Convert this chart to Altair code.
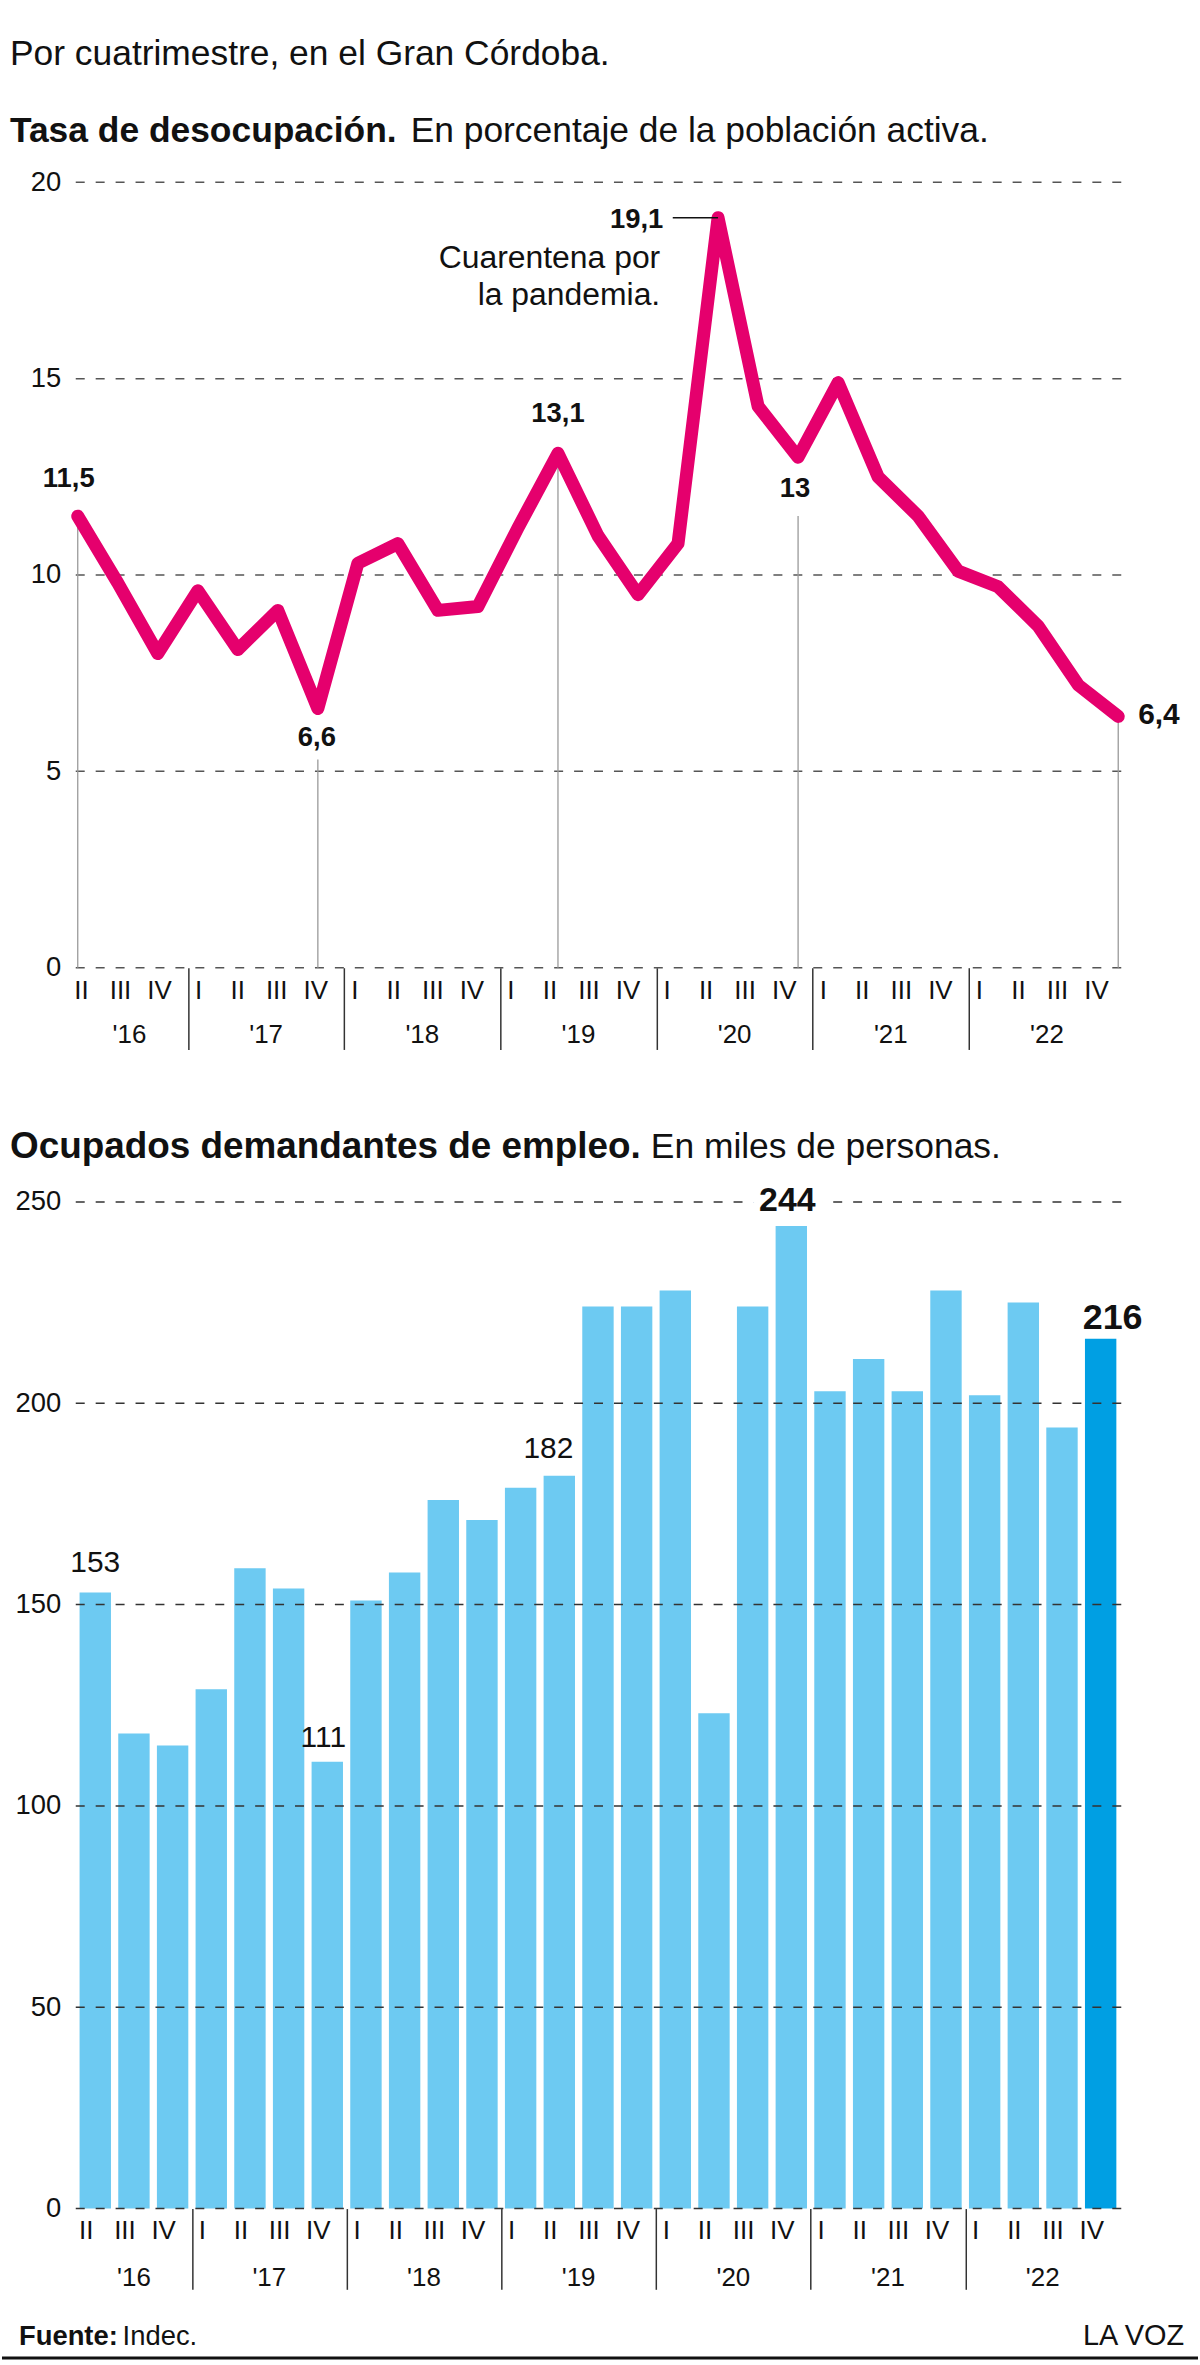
import altair as alt
import pandas as pd

# ---------------- data ----------------
quarters = ["II", "III", "IV",
            "I", "II", "III", "IV",
            "I", "II", "III", "IV",
            "I", "II", "III", "IV",
            "I", "II", "III", "IV",
            "I", "II", "III", "IV",
            "I", "II", "III", "IV"]
years = ["'16"] * 3 + ["'17"] * 4 + ["'18"] * 4 + ["'19"] * 4 + ["'20"] * 4 + ["'21"] * 4 + ["'22"] * 4
unemployment = [11.5, 9.8, 8.0, 9.6, 8.1, 9.1, 6.6, 10.3, 10.8, 9.1, 9.2, 11.2, 13.1, 11.0,
                9.5, 10.8, 19.1, 14.3, 13.0, 14.9, 12.5, 11.5, 10.1, 9.7, 8.7, 7.2, 6.4]
demand = [153, 118, 115, 129, 159, 154, 111, 151, 158, 176, 171, 179, 182, 224,
          224, 228, 123, 224, 244, 203, 211, 203, 228, 202, 225, 194, 216]
grid_top = [0, 5, 10, 15, 20]
grid_bottom = [0, 50, 100, 150, 200, 250]
drop_idx = [0, 6, 12, 18, 26]
drop_top = [11.5, 5.3, 13.1, 11.5, 6.4]

FONT = "Liberation Sans"
BLACK = "#111111"
MAGENTA = "#E5006D"
LIGHT = "#6DCAF2"
DARK = "#009FE3"

n = len(quarters)
df = pd.DataFrame({"idx": list(range(n)), "quarter": quarters, "year": years,
                   "unemp": unemployment, "demand": demand})
df["hl"] = ["last" if i == n - 1 else "rest" for i in range(n)]
df["ulab"] = [f"{v:.1f}".replace(".", ",").replace(",0", "") for v in unemployment]
df["dlab"] = [str(v) for v in demand]

yr = df.groupby("year", sort=False)["idx"].agg(["mean", "min"]).reset_index()
yr.columns = ["year", "mid", "first"]
seps = [float(m) - 0.5 for m in yr["first"][1:]]

one = pd.DataFrame({"a": [0]})
drops = pd.DataFrame({"idx": drop_idx, "top": drop_top, "base": [0] * len(drop_idx)})

W = 1051
H_TOP = 788
H_BOT = 1010
TOP_Y0 = 178
AX_FS = 27.5
TICK_FS = 26

# ---------------- encodings ----------------
def xL():
    return alt.X("idx:Q", scale=alt.Scale(domain=[-0.0996, 26.0757], nice=False, zero=False),
                 axis=None, title=None)


def xB(field="idx", axis=None):
    return alt.X(f"{field}:Q", scale=alt.Scale(domain=[-0.4276, 26.404], nice=False, zero=False),
                 axis=axis, title=None)


def sep_axis(size):
    return alt.Axis(values=seps, tickSize=size, labels=False, domain=False, grid=False,
                    ticks=True, tickColor="#333333", tickWidth=1.5, title=None)


def yT(field):
    return alt.Y(f"{field}:Q", scale=alt.Scale(domain=[0, 20], nice=False),
                 axis=alt.Axis(values=grid_top, grid=False, domain=False, ticks=False,
                               labelPadding=13, labelFontSize=AX_FS, labelFont=FONT,
                               labelColor=BLACK, title=None),
                 title=None)


def yB(field):
    return alt.Y(f"{field}:Q", scale=alt.Scale(domain=[0, 250], nice=False),
                 axis=alt.Axis(values=grid_bottom, grid=False, domain=False, ticks=False,
                               labelPadding=13, labelFontSize=AX_FS, labelFont=FONT,
                               labelColor=BLACK, title=None),
                 title=None)


def free_text(txt, x, y, size, weight="normal", align="left"):
    return alt.Chart(one).mark_text(text=txt, align=align, baseline="alphabetic", font=FONT,
                                    fontSize=size, fontWeight=weight, color=BLACK).encode(
        x=alt.value(x), y=alt.value(y))


# ---------------- top chart ----------------
anchor = alt.Chart(one).mark_rule(color="white", strokeWidth=1).encode(
    x=alt.value(-72), x2=alt.value(1128), y=alt.value(-TOP_Y0))

sub = free_text("Por cuatrimestre, en el Gran Córdoba.", -64, -118, 35.5)
t1b = free_text("Tasa de desocupación.", -64, -40, 35.5, "bold")
t1r = free_text("En porcentaje de la población activa.", 338, -40, 35.5)

grid_t = alt.Chart(pd.DataFrame({"v": grid_top})).mark_rule(
    strokeDash=[9, 11], color="#555555", strokeWidth=1.5).encode(y=yT("v"))

drop_t = alt.Chart(drops).mark_rule(color="#9a9a9a", strokeWidth=1.3).encode(
    x=xL(), y=yT("top"), y2="base:Q")

line_t = alt.Chart(df).mark_line(color=MAGENTA, strokeWidth=13, strokeCap="round",
                                 strokeJoin="round").encode(x=xL(), y=yT("unemp"))

leader = alt.Chart(df).transform_filter(alt.datum.idx == 16).mark_rule(
    color=BLACK, strokeWidth=1.5).encode(x=xL(), x2=alt.value(601), y=yT("unemp"))

ann_specs = [(0, -9, -37, "center", 27.5), (6, -1, 30, "center", 27.5),
             (12, 0, -39, "center", 27.5), (16, -55, 2, "right", 27.5),
             (18, -3, 32, "center", 27.5), (26, 20, -1, "left", 30)]
ann_layers = []
for k, dx, dy, al, fs in ann_specs:
    ann_layers.append(
        alt.Chart(df).transform_filter(alt.datum.idx == k).mark_text(
            dx=dx, dy=dy, align=al, baseline="middle", font=FONT, fontSize=fs,
            fontWeight="bold", color=BLACK).encode(x=xL(), y=yT("unemp"), text="ulab:N"))

quar1 = alt.Chart(df).transform_filter(alt.datum.idx == 16).mark_text(
    text="Cuarentena por", dx=-58, dy=40, align="right", baseline="middle", font=FONT,
    fontSize=32, color=BLACK).encode(x=xL(), y=yT("unemp"))
quar2 = alt.Chart(df).transform_filter(alt.datum.idx == 16).mark_text(
    text="la pandemia.", dx=-58, dy=78, align="right", baseline="middle", font=FONT,
    fontSize=32, color=BLACK).encode(x=xL(), y=yT("unemp"))

roman_t = alt.Chart(df).mark_text(dx=-9, baseline="middle", font=FONT, fontSize=TICK_FS,
                                  color=BLACK).encode(
    x=xB("idx", sep_axis(82)), y=alt.value(H_TOP + 23), text="quarter:N")
year_t = alt.Chart(yr).mark_text(baseline="middle", font=FONT, fontSize=TICK_FS,
                                 color=BLACK).encode(
    x=xB("mid"), y=alt.value(H_TOP + 68), text="year:N")

top = alt.layer(anchor, sub, t1b, t1r, grid_t, drop_t, line_t, leader, *ann_layers,
                quar1, quar2, roman_t, year_t).resolve_scale(x="independent").properties(
    width=W, height=H_TOP)

# ---------------- bottom chart ----------------
bars = alt.Chart(df).mark_bar(size=31.5).encode(
    x=xB("idx", sep_axis(81)), y=yB("demand"),
    color=alt.Color("hl:N", scale=alt.Scale(domain=["rest", "last"], range=[LIGHT, DARK]),
                    legend=None))

grid_b = alt.Chart(pd.DataFrame({"v": grid_bottom})).mark_rule(
    strokeDash=[9, 11], color="#333333", strokeWidth=1.5).encode(y=yB("v"))

halo = alt.Chart(df).transform_filter(alt.datum.idx == 18).mark_text(
    dx=-4, dy=-25, baseline="middle", font=FONT, fontSize=34, fontWeight="bold",
    color="white", stroke="white", strokeWidth=16).encode(
    x=xB("idx", sep_axis(81)), y=yB("demand"), text="dlab:N")

bl_specs = [(0, 0, -30, 30, "normal"), (6, -4, -24, 30, "normal"),
            (12, -11, -27, 30, "normal"), (18, -4, -25, 34, "bold"),
            (26, 12, -21, 36, "bold")]
bl_layers = []
for k, dx, dy, fs, fw in bl_specs:
    bl_layers.append(
        alt.Chart(df).transform_filter(alt.datum.idx == k).mark_text(
            dx=dx, dy=dy, baseline="middle", font=FONT, fontSize=fs, fontWeight=fw,
            color=BLACK).encode(x=xB("idx", sep_axis(81)), y=yB("demand"), text="dlab:N"))

roman_b = alt.Chart(df).mark_text(dx=-9, baseline="middle", font=FONT, fontSize=TICK_FS,
                                  color=BLACK).encode(
    x=xB("idx", sep_axis(81)), y=alt.value(H_BOT + 23), text="quarter:N")
year_b = alt.Chart(yr).mark_text(baseline="middle", font=FONT, fontSize=TICK_FS,
                                 color=BLACK).encode(
    x=xB("mid", sep_axis(81)), y=alt.value(H_BOT + 70), text="year:N")

t2b = free_text("Ocupados demandantes de empleo.", -64, -44, 37, "bold")
t2r = free_text("En miles de personas.", 579, -44, 35.5)
f1 = free_text("Fuente:", -55, 1147, 27.5, "bold")
f2 = free_text("Indec.", 49, 1147, 27.5)
f3 = free_text("LA VOZ", 1114, 1147, 29, align="right")
bottom_rule = alt.Chart(one).mark_rule(color=BLACK, strokeWidth=3).encode(
    x=alt.value(-72), x2=alt.value(1128), y=alt.value(1160))

bottom = alt.layer(bars, grid_b, halo, *bl_layers, roman_b, year_b, t2b, t2r, f1, f2, f3,
                   bottom_rule).properties(width=W, height=H_BOT)

chart = alt.vconcat(top, bottom, spacing=235, bounds="flush").properties(
    padding=0, background="white").configure_view(stroke=None)

chart.save("out.html", embed_options={"renderer": "svg", "actions": False})
